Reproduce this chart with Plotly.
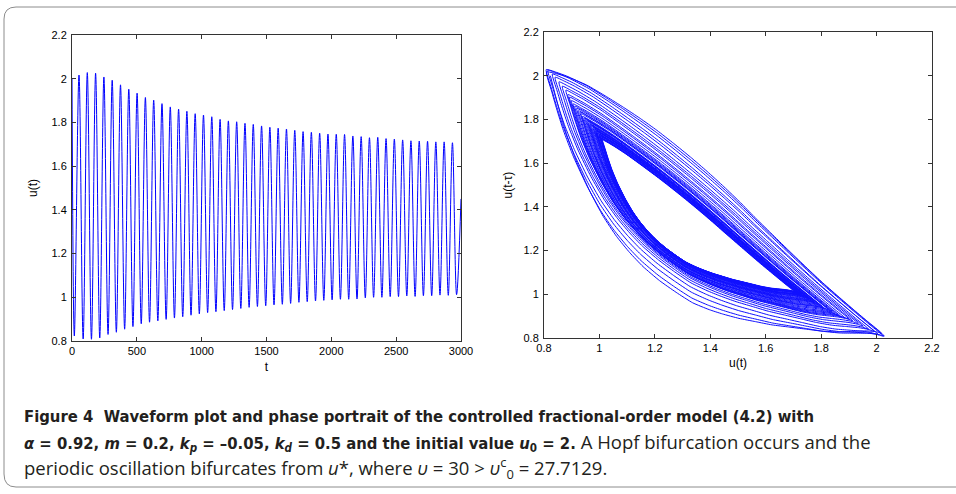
import plotly.graph_objects as go

W, H = 956, 494

# ---------------- data ----------------
u0 = 2.0            # initial value u(0) (also the history value)
t_last = 3000
u_last = 1.45

peak_t = [54, 118, 182, 246, 310, 374, 438, 502, 566, 630, 694, 758, 822, 886, 950,
          1014, 1078, 1142, 1206, 1270, 1334, 1398, 1462, 1526, 1590, 1654, 1718, 1782,
          1846, 1910, 1974, 2038, 2102, 2166, 2230, 2294, 2358, 2422, 2486, 2550, 2614,
          2678, 2742, 2806, 2870, 2934]
peak_u = [2.017, 2.028, 2.025, 2.008, 1.993, 1.972, 1.952, 1.934, 1.914, 1.902, 1.886,
          1.871, 1.861, 1.851, 1.840, 1.834, 1.826, 1.814, 1.807, 1.803, 1.796, 1.791,
          1.784, 1.778, 1.774, 1.770, 1.764, 1.758, 1.755, 1.751, 1.747, 1.746, 1.745,
          1.738, 1.735, 1.730, 1.732, 1.726, 1.724, 1.720, 1.716, 1.715, 1.714, 1.711,
          1.711, 1.707]
trough_t = [18, 86, 150, 214, 278, 342, 406, 470, 534, 598, 662, 726, 790, 854, 918, 982,
            1046, 1110, 1174, 1238, 1302, 1366, 1430, 1494, 1558, 1622, 1686, 1750, 1814,
            1878, 1942, 2006, 2070, 2134, 2198, 2262, 2326, 2390, 2454, 2518, 2582, 2646,
            2710, 2774, 2838, 2902, 2966]
trough_u = [0.823, 0.809, 0.808, 0.814, 0.830, 0.840, 0.854, 0.866, 0.879, 0.886, 0.892,
            0.899, 0.905, 0.911, 0.918, 0.924, 0.930, 0.934, 0.939, 0.944, 0.949, 0.954,
            0.958, 0.961, 0.965, 0.968, 0.972, 0.977, 0.980, 0.983, 0.986, 0.988, 0.991,
            0.991, 0.992, 0.997, 1.000, 1.000, 1.003, 1.003, 1.006, 1.004, 1.007, 1.007,
            1.010, 1.009, 1.012]

# phase portrait: branch bulge profiles (fraction along chord -> relative bulge)
upper_frac = [0.03, 0.06, 0.12, 0.18, 0.23, 0.28, 0.33, 0.38, 0.43, 0.48, 0.53, 0.58,
              0.62, 0.67, 0.72, 0.77, 0.82, 0.87, 0.92, 0.96]
upper_shape = [0.22, 0.40, 0.66, 0.80, 0.89, 0.96, 1.00, 1.00, 0.98, 0.93, 0.85, 0.74,
               0.62, 0.50, 0.38, 0.27, 0.17, 0.11, 0.06, 0.03]
lower_frac = [0.015, 0.03, 0.05, 0.08, 0.12, 0.16, 0.20, 0.24, 0.28, 0.33, 0.38, 0.43,
              0.48, 0.52, 0.57, 0.62, 0.67, 0.72, 0.77, 0.82, 0.87, 0.91, 0.95, 0.98]
lower_shape = [0.13, 0.25, 0.39, 0.55, 0.71, 0.83, 0.91, 0.96, 0.99, 1.00, 0.99, 0.97,
               0.92, 0.87, 0.80, 0.72, 0.64, 0.55, 0.46, 0.37, 0.27, 0.18, 0.09, 0.03]
# per-loop bulge (relative to the loop's width)
upper_bow = [0.105, 0.090, 0.080, 0.071, 0.064, 0.058, 0.055, 0.053, 0.051, 0.050, 0.049,
             0.048, 0.047, 0.046, 0.046, 0.045, 0.045, 0.044, 0.044, 0.043, 0.043, 0.043,
             0.042, 0.042, 0.042, 0.042, 0.041, 0.041, 0.041, 0.041, 0.041, 0.040, 0.040,
             0.040, 0.040, 0.040, 0.040, 0.040, 0.040, 0.040, 0.040, 0.040, 0.040, 0.040,
             0.040, 0.040]
lower_bow = [0.460, 0.435, 0.418, 0.405, 0.398, 0.393, 0.390, 0.388, 0.387, 0.386, 0.386,
             0.385, 0.385, 0.385, 0.385, 0.385, 0.385, 0.385, 0.385, 0.385, 0.385, 0.385,
             0.385, 0.385, 0.385, 0.385, 0.385, 0.385, 0.385, 0.385, 0.385, 0.385, 0.385,
             0.385, 0.385, 0.385, 0.385, 0.385, 0.385, 0.385, 0.385, 0.385, 0.385, 0.385,
             0.385, 0.385]

t_ticks = [0, 500, 1000, 1500, 2000, 2500, 3000]
t_ticklabels = ["0", "500", "1000", "1500", "2000", "2500", "3000"]
u_ticks = [0.8, 1.0, 1.2, 1.4, 1.6, 1.8, 2.0, 2.2]
u_ticklabels = ["0.8", "1", "1.2", "1.4", "1.6", "1.8", "2", "2.2"]

# ---------------- build the traces ----------------
wave_t = [0, trough_t[0]]
wave_u = [u0, trough_u[0]]
for k in range(len(peak_t)):
    wave_t += [peak_t[k], trough_t[k + 1]]
    wave_u += [peak_u[k], trough_u[k + 1]]
wave_t.append(t_last)
wave_u.append(u_last)


def branch(L, R, fracs, shape, bow, sign):
    span = R[0] - L[0]
    xs, ys = [], []
    for f, s in zip(fracs, shape):
        xs.append(L[0] + f * (R[0] - L[0]))
        ys.append(L[1] + f * (R[1] - L[1]) + sign * bow * span * s)
    return xs, ys


px, py = [], []
TL = (trough_u[0], u0)
px.append(TL[0]); py.append(TL[1])
for i in range(len(peak_u)):
    BR = (peak_u[i], trough_u[i])
    bx, by = branch(TL, BR, lower_frac, lower_shape, lower_bow[i], -1)
    px += bx + [BR[0]]
    py += by + [BR[1]]
    TL = (trough_u[i + 1], peak_u[i])
    bx, by = branch(TL, BR, upper_frac, upper_shape, upper_bow[i], +1)
    px += bx[::-1] + [TL[0]]
    py += by[::-1] + [TL[1]]

fig = go.Figure()
fig.add_trace(go.Scatter(x=wave_t, y=wave_u, mode="lines",
                         line=dict(color="#0000ff", width=1, shape="spline", smoothing=1),
                         xaxis="x", yaxis="y", showlegend=False, hoverinfo="skip"))
fig.add_trace(go.Scatter(x=px, y=py, mode="lines",
                         line=dict(color="#1010ff", width=1, shape="spline", smoothing=0.5),
                         xaxis="x2", yaxis="y2", showlegend=False, hoverinfo="skip"))

FONT = "Liberation Sans, Arial, Helvetica, sans-serif"
tickfont = dict(family=FONT, size=11, color="#000")
axis_common = dict(showline=True, mirror="ticks", linecolor="#333", linewidth=1,
                   ticks="inside", ticklen=4, tickcolor="#333", showgrid=False,
                   zeroline=False, tickfont=tickfont, automargin=False,
                   title_font=dict(family=FONT, size=12, color="#000"))

fig.update_layout(
    width=W, height=H, margin=dict(l=0, r=0, t=0, b=0),
    paper_bgcolor="white", plot_bgcolor="white",
    xaxis=dict(domain=[72 / W, 461 / W], range=[0, 3000], tickvals=t_ticks,
               ticktext=t_ticklabels, anchor="y",
               title=dict(text="t", standoff=6), **axis_common),
    yaxis=dict(domain=[1 - 341 / H, 1 - 35 / H], range=[0.8, 2.2], tickvals=u_ticks,
               ticktext=u_ticklabels, anchor="x", ticklabelstandoff=2,
               title=dict(text="u(t)", standoff=11), **axis_common),
    xaxis2=dict(domain=[544 / W, 932 / W], range=[0.8, 2.2], tickvals=u_ticks,
                ticktext=u_ticklabels, anchor="y2",
                title=dict(text="u(t)", standoff=5), **axis_common),
    yaxis2=dict(domain=[1 - 338 / H, 1 - 32 / H], range=[0.8, 2.2], tickvals=u_ticks,
                ticktext=u_ticklabels, anchor="x2", ticklabelstandoff=2,
                title=dict(text="u(t-τ)", standoff=8), **axis_common),
)

# outer rounded frame
fig.add_shape(type="path", xref="paper", yref="paper",
              path=(f"M 1.05 {1 - 7 / H} L {16 / W} {1 - 7 / H} "
                    f"Q {4 / W} {1 - 7 / H} {4 / W} {1 - 19 / H} "
                    f"L {4 / W} {1 - 474 / H} Q {4 / W} {1 - 487 / H} {16 / W} {1 - 487 / H} "
                    f"L 1.05 {1 - 487 / H}"),
              line=dict(color="#8c8c8c", width=1))

cap_font = dict(family="Open Sans, Noto Sans, sans-serif", size=18.5, color="#231f20")
B0 = "<span style=\"font-family:DejaVu Sans Condensed;font-size:16.5px\"><b>"
B1 = "</b></span>"
lines = [
    B0 + "Figure 4  Waveform plot and phase portrait of the controlled fractional-order model (4.2) with" + B1,
    B0 + "<i>α</i> = 0.92, <i>m</i> = 0.2, <i>k<sub>p</sub></i> = –0.05, <i>k<sub>d</sub></i> = 0.5 and the initial value <i>u</i><sub>0</sub> = 2." + B1
    + " A Hopf bifurcation occurs and the",
    "periodic oscillation bifurcates from <i>u</i>*, where <i>υ</i> = 30 > <i>υ</i><sup>c</sup><sub>0</sub> = 27.7129.",
]
ys = [416, 442, 468]
for txt, yy in zip(lines, ys):
    fig.add_annotation(text=txt, xref="paper", yref="paper", x=22 / W, y=1 - yy / H,
                       xanchor="left", yanchor="middle", showarrow=False, font=cap_font)

fig.write_html("out.html", config={"displayModeBar": False},
               post_script="document.body.style.margin='0';")
